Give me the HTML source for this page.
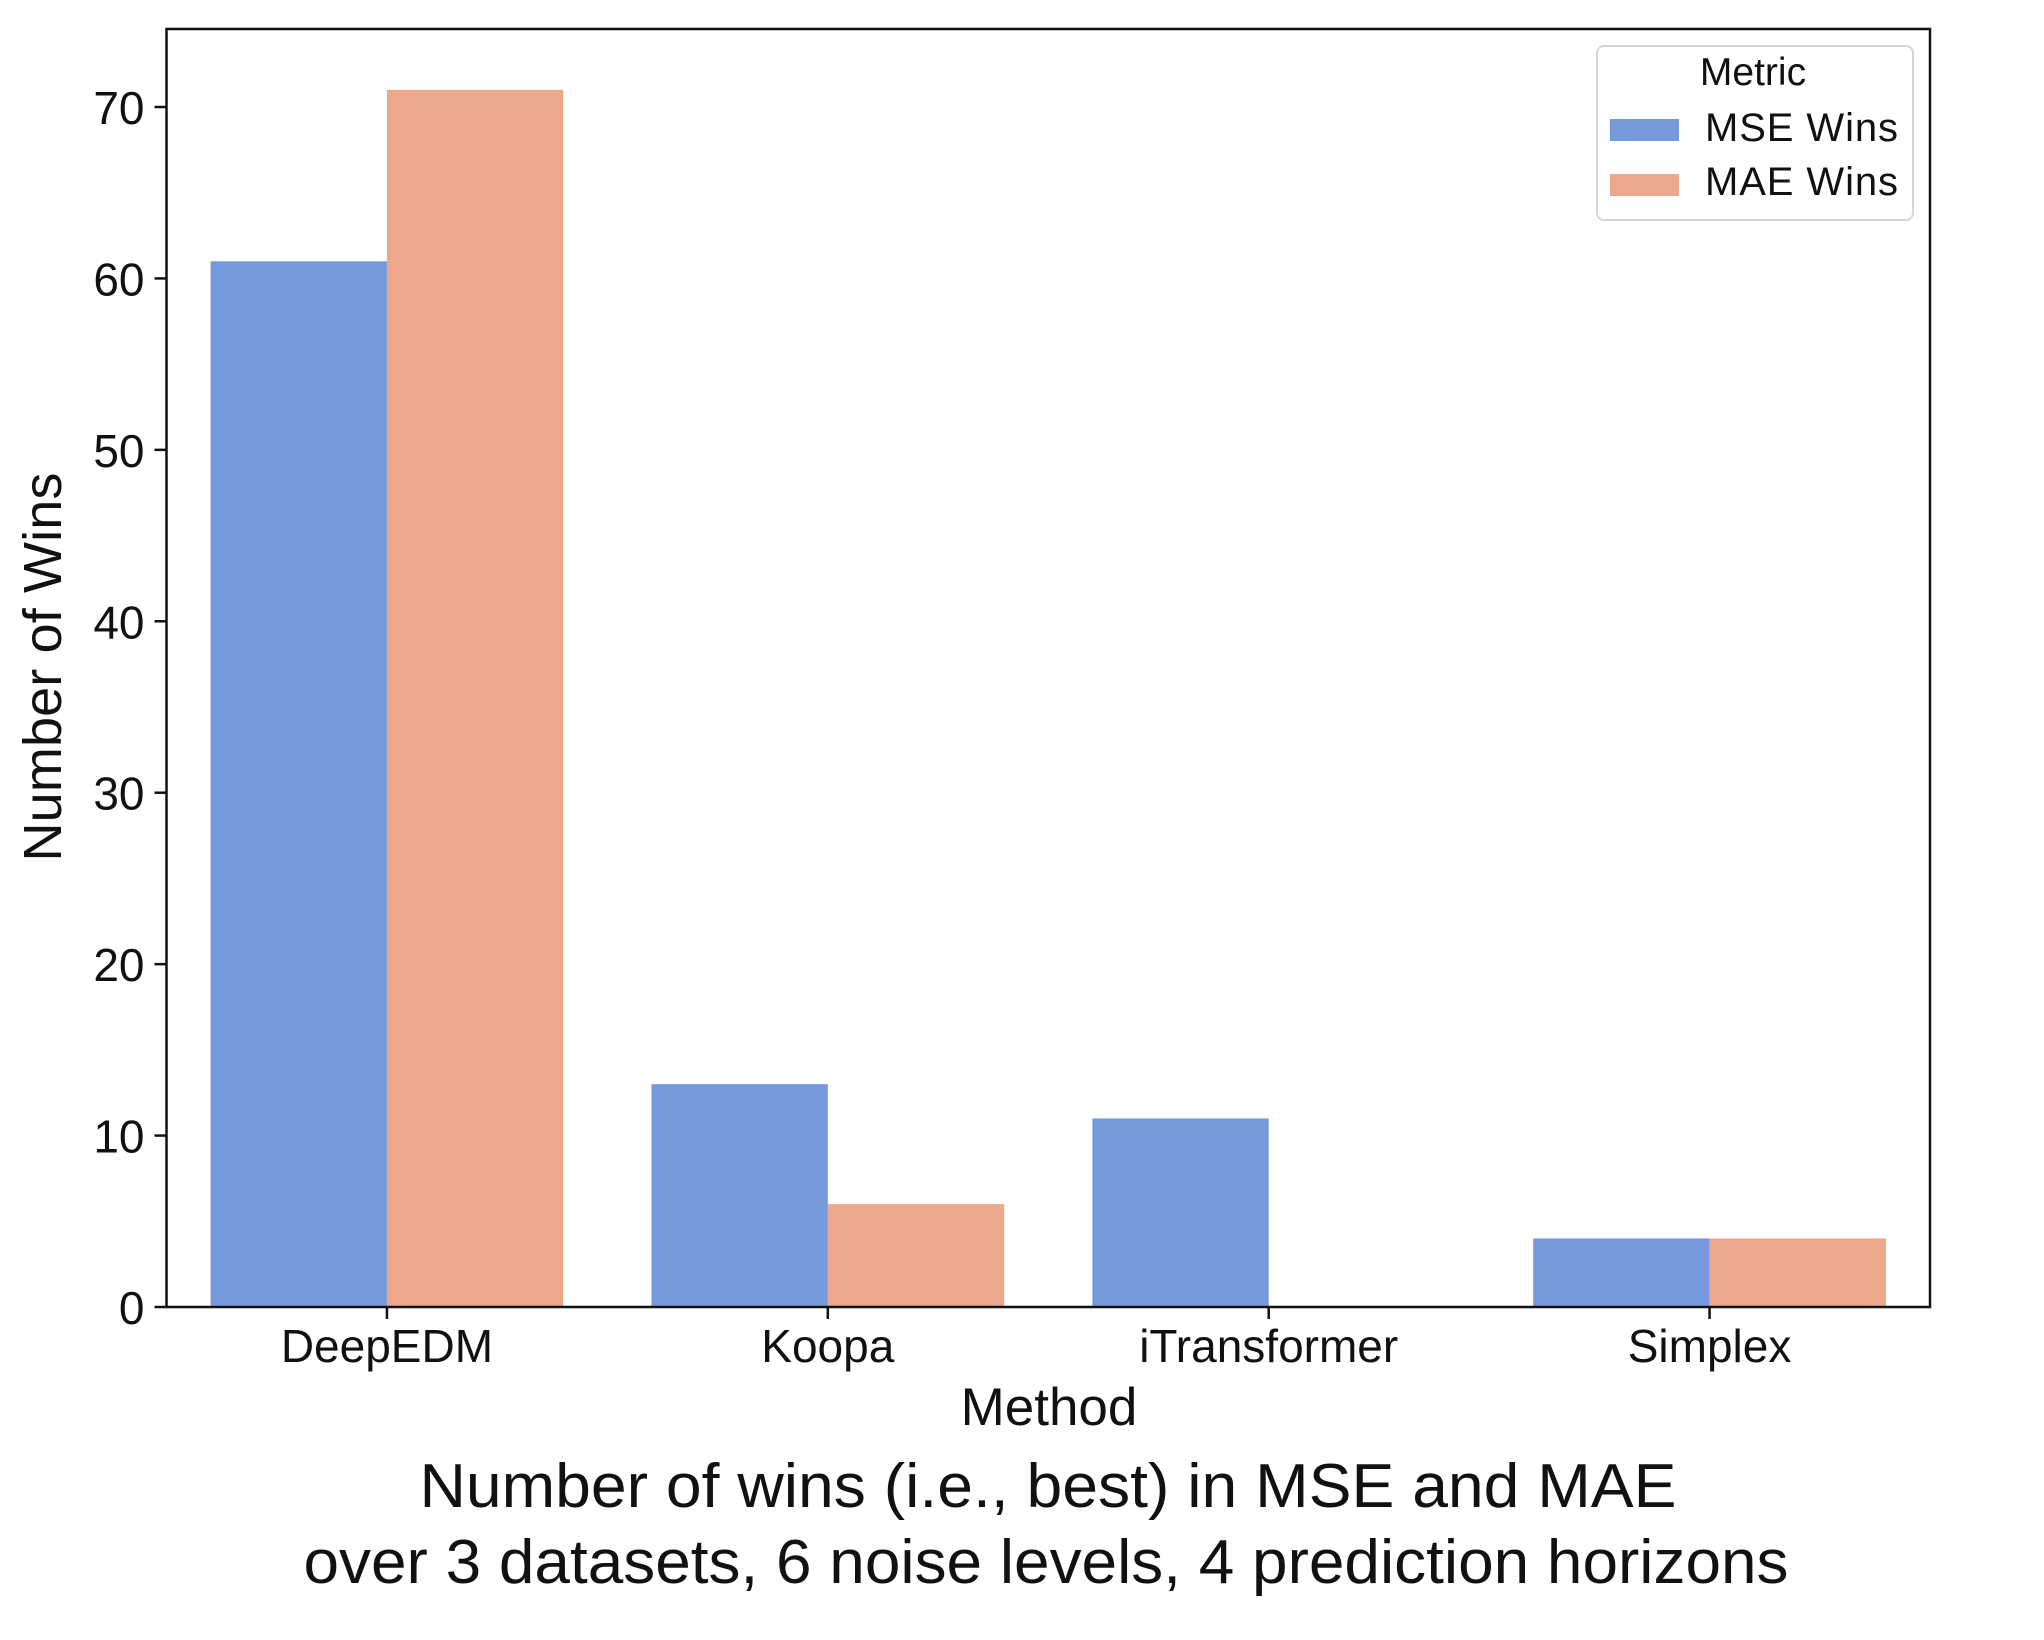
<!DOCTYPE html>
<html><head><meta charset="utf-8"><style>
html,body{margin:0;padding:0;background:#fff;}
svg{display:block;font-family:"Liberation Sans",Arial,sans-serif;}
</style></head><body>
<svg id="chart" width="2044" height="1640" viewBox="0 0 2044 1640">
<g id="bars"></g>
<g id="axes"></g>
<text x="1049" y="1425" font-size="53" text-anchor="middle" fill="#111">Method</text>
<text transform="translate(61,667) rotate(-90)" font-size="54" text-anchor="middle" fill="#111" textLength="389">Number of Wins</text>
<text x="1048" y="1507" font-size="62" text-anchor="middle" fill="#111" textLength="1257" lengthAdjust="spacingAndGlyphs">Number of wins (i.e., best) in MSE and MAE</text>
<text x="1046" y="1583" font-size="62" text-anchor="middle" fill="#111" textLength="1485" lengthAdjust="spacingAndGlyphs">over 3 datasets, 6 noise levels, 4 prediction horizons</text>
<g>
<rect x="1597" y="46" width="316" height="174" rx="7" fill="#fff" stroke="#d6d6d6" stroke-width="2"/>
<text x="1753" y="85" font-size="39" text-anchor="middle" fill="#111">Metric</text>
<rect x="1610" y="119" width="69" height="22" fill="#7599DB"/>
<text x="1705" y="141" font-size="40" fill="#111" textLength="193">MSE Wins</text>
<rect x="1610" y="174" width="69" height="22" fill="#EDA78A"/>
<text x="1705" y="195" font-size="40" fill="#111" textLength="193">MAE Wins</text>
</g>
</svg>
<script>
const categories = ["DeepEDM", "Koopa", "iTransformer", "Simplex"];
const mseWins = [61, 13, 11, 4];
const maeWins = [71, 6, 0, 4];
const yTicks = [0, 10, 20, 30, 40, 50, 60, 70];
const seriesNames = ["MSE Wins", "MAE Wins"];

const NS = "http://www.w3.org/2000/svg";
const L = 166.5, R = 1930, T = 29, B = 1307, YMAX = 74.55;
const band = (R - L) / categories.length;
function xCenter(i){ return L + band * (i + 0.5); }
function yPos(v){ return B - (v / YMAX) * (B - T); }
function mk(tag, attrs){ const e = document.createElementNS(NS, tag); for (const k in attrs) e.setAttribute(k, attrs[k]); return e; }

const bars = document.getElementById('bars');
const axes = document.getElementById('axes');
const colors = ["#7599DB", "#EDA78A"];
const series = [mseWins, maeWins];
const bw = band * 0.4;
series.forEach((vals, s) => {
  vals.forEach((v, i) => {
    const x = xCenter(i) - bw + s * bw;
    const r = mk('rect', {x: x, y: yPos(v), width: bw, height: B - yPos(v), fill: colors[s]});
    
    
    bars.appendChild(r);
  });
});

const frame = mk('rect', {x: L, y: T, width: R - L, height: B - T, fill: 'none', stroke: '#111', 'stroke-width': 2.5});


axes.appendChild(frame);

yTicks.forEach(t => {
  const y = yPos(t);
  const ln = mk('line', {x1: L - 12, x2: L, y1: y, y2: y, stroke: '#111', 'stroke-width': 2.5});
  
  
  axes.appendChild(ln);
  const tx = mk('text', {x: L - 22, y: y + 17, 'font-size': 46, 'text-anchor': 'end', fill: '#111'});
  tx.textContent = t;
  
  
  axes.appendChild(tx);
});

categories.forEach((c, i) => {
  const x = xCenter(i);
  const ln = mk('line', {x1: x, x2: x, y1: B, y2: B + 12, stroke: '#111', 'stroke-width': 2.5});
  
  
  axes.appendChild(ln);
  const tx = mk('text', {x: x, y: 1362, 'font-size': 46, 'text-anchor': 'middle', fill: '#111'});
  tx.textContent = c;
  
  
  axes.appendChild(tx);
});
</script>
</body></html>
